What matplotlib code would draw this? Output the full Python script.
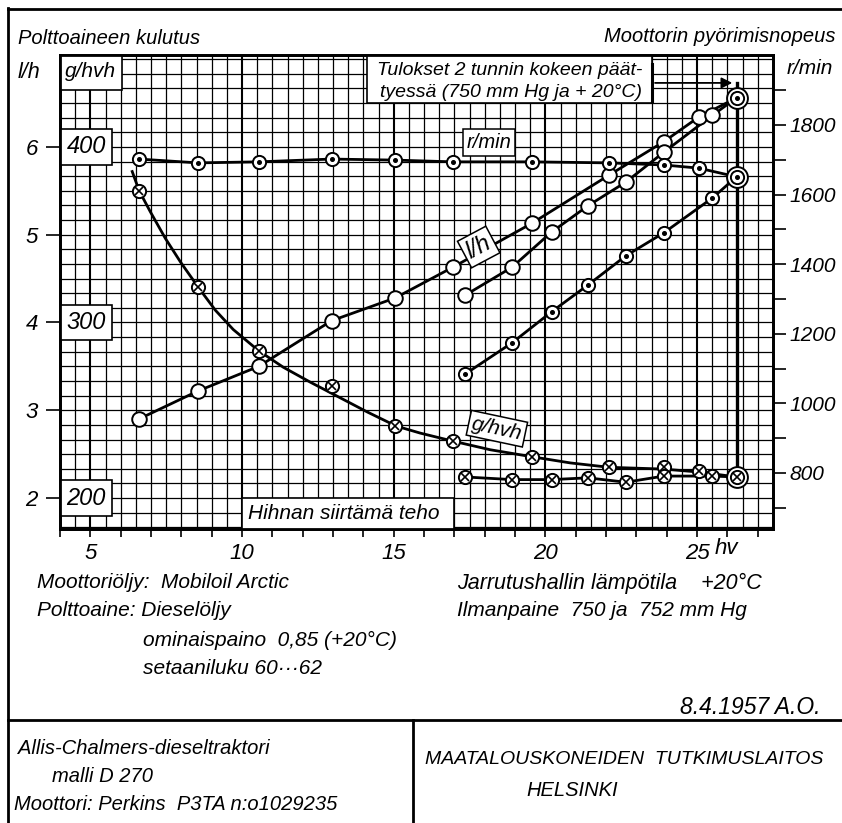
import numpy as np
import matplotlib
matplotlib.use("Agg")
import matplotlib.pyplot as plt
from matplotlib.lines import Line2D
from matplotlib.patches import Rectangle
from matplotlib.ticker import FixedLocator, MultipleLocator

plt.rcParams['font.family'] = ['Liberation Sans', 'DejaVu Sans']
plt.rcParams['font.style'] = 'italic'

W, H = 842, 823

# governor range: speed held by the governor
hv_gov = [6.6, 8.55, 10.55, 12.95, 15.05, 16.95, 19.55, 22.1, 23.9, 25.05, 26.3]
lh_gov = [2.90, 3.22, 3.50, 4.02, 4.28, 4.63, 5.13, 5.68, 6.06, 6.34, 6.56]
rpm_gov = [1702, 1691, 1694, 1702, 1699, 1694, 1694, 1691, 1685, 1676, 1651]
ghvh_gov = [375, 320, 284, 264, 241, 232.5, 223.5, 217.5, 217.5, 215.5, 212]

# full throttle, speed falling with load
hv_full = [17.35, 18.9, 20.2, 21.4, 22.65, 23.9, 25.5, 26.3]
lh_full = [4.31, 4.63, 5.03, 5.33, 5.60, 5.94, 6.36, 6.56]
rpm_full = [1084, 1174, 1263, 1340, 1424, 1490, 1590, 1651]
ghvh_full = [212, 210.5, 210.5, 211.5, 209, 212.5, 212.5, 212]

# hand drawn g/hvh curve
hv_curve = [6.38, 6.61, 6.98, 7.47, 7.97, 8.56, 9.12, 9.71, 10.54, 11.36, 12.25,
            12.97, 14.13, 15.08, 15.87, 16.93, 18.18, 19.56, 20.82, 22.1, 23.88,
            25.07, 26.3]
g_curve = [386, 375, 363, 348, 334.5, 320, 307, 296, 284, 274.5, 266, 259.5,
           249, 241, 237, 232.5, 227.5, 223.5, 220, 217.5, 216.5, 214.8, 212]

# 2 hour test result point
hv_test = 26.3

FS = 14.5


def px(x, y):
    return x / W, 1 - y / H


fig = plt.figure(figsize=(W / 100, H / 100), dpi=100)
fig.patch.set_facecolor('white')

l0, b0 = px(60, 529)
r0, t0 = px(773, 55)
ax = fig.add_axes([l0, b0, r0 - l0, t0 - b0])
ax.set_xlim(4, 27.5)
ax.set_ylim(1.647, 7.048)
ax_r = ax.twinx()
ax_r.set_ylim(639, 2001)
ax_g = ax.twinx()
ax_g.set_ylim(100 + 50 * 1.647, 100 + 50 * 7.048)
ax_g.axis('off')

for a in (ax, ax_r):
    for s in a.spines.values():
        s.set_linewidth(2.0)

# paper grid
for v in np.arange(4.5, 27.5, 0.5):
    ax.axvline(v, color='k', lw=1.5 if v % 5 == 0 else 0.9, zorder=1)
for k in range(-2, 31):
    ax.axhline(2 + k / 6, color='k', lw=0.9, zorder=1)

# ticks
ax.xaxis.set_major_locator(FixedLocator([5, 10, 15, 20, 25]))
ax.xaxis.set_minor_locator(MultipleLocator(1))
ax.tick_params(axis='x', which='both', direction='out', length=6, width=1.2,
               pad=4, top=False, labelsize=16)
ax.set_yticks([2, 3, 4, 5, 6])
ax.tick_params(axis='y', direction='out', length=10, width=1.2, pad=6,
               right=False, labelsize=16)
ax_r.yaxis.set_major_locator(FixedLocator([800, 1000, 1200, 1400, 1600, 1800]))
ax_r.yaxis.set_minor_locator(FixedLocator([700, 900, 1100, 1300, 1500, 1700, 1900]))
ax_r.tick_params(axis='y', which='both', direction='out', length=9, width=1.2,
                 pad=3, labelsize=15)
fig.text(*px(715, 549), 'hv', fontsize=16, ha='left', va='center')


# label boxes on the grid
def box(x0, y0, w, h, lw=1.2):
    ax.add_patch(Rectangle((x0, y0), w, h, fc='white', ec='k', lw=lw, zorder=4))


box(4.0, 6.65, 2.05, 0.5)
ax.text(5.0, 6.86, 'g/hvh', fontsize=15, ha='center', va='center', zorder=5)
for lv, gv in [(6, '400'), (4, '300'), (2, '200')]:
    box(4.0, lv - 0.2, 1.72, 0.4)
    ax.text(4.86, lv, gv, fontsize=17, ha='center', va='center', zorder=5)

box(14.13, 6.50, 9.39, 0.7)
ax.plot([23.52, 23.52], [6.52, 6.95], color='k', lw=2.2, zorder=5)
ax.text(14.46, 6.87, 'Tulokset 2 tunnin kokeen päät-', fontsize=14,
        ha='left', va='center', zorder=5)
ax.text(14.55, 6.62, 'tyessä (750 mm Hg ja + 20°C)', fontsize=14,
        ha='left', va='center', zorder=5)
ax.annotate('', xy=(hv_test - 0.05, 6.73), xytext=(23.52, 6.73),
            arrowprops=dict(arrowstyle='-|>', color='k', lw=1.3,
                            mutation_scale=16), zorder=5)
ax.plot([hv_test, hv_test], [6.73, 2.24], color='k', lw=2.4, zorder=3)

box(10.0, 1.6, 7.0, 0.4)
ax.text(10.2, 1.82, 'Hihnan siirtämä teho', fontsize=FS + 0.5, ha='left',
        va='center', zorder=5)

ax.text(18.15, 6.05, 'r/min', fontsize=FS, ha='center', va='center', zorder=5,
        bbox=dict(boxstyle='square,pad=0.18', fc='white', ec='k', lw=1.1))
ax.text(17.8, 4.86, 'l/h', fontsize=17, ha='center', va='center', rotation=28,
        zorder=5, bbox=dict(boxstyle='square,pad=0.15', fc='white', ec='k', lw=1.1))
ax.text(18.4, 2.79, 'g/hvh', fontsize=FS + 0.5, ha='center', va='center',
        rotation=-12, zorder=5,
        bbox=dict(boxstyle='square,pad=0.15', fc='white', ec='k', lw=1.1))

# curves
LW = 2.0
ax.plot(hv_gov, lh_gov, color='k', lw=LW, zorder=3)
ax.plot(hv_full, lh_full, color='k', lw=LW, zorder=3)
ax_r.plot(hv_gov, rpm_gov, color='k', lw=LW, zorder=3)
ax_r.plot(hv_full, rpm_full, color='k', lw=LW, zorder=3)
ax_g.plot(hv_curve, g_curve, color='k', lw=LW, zorder=3)
ax_g.plot(hv_full, ghvh_full, color='k', lw=LW, zorder=3)


def circles(a, x, y, kind, ms=9.5):
    a.plot(x, y, 'o', ms=ms, mfc='white', mec='k', mew=1.4, zorder=6)
    if kind == 'dot':
        a.plot(x, y, 'o', ms=2.6, color='k', zorder=7)
    elif kind == 'cross':
        a.plot(x, y, 'x', ms=ms * 0.6, mec='k', mew=1.2, zorder=7)


# double rings at the test point
ring = dict(ms=15, mfc='white', mec='k', mew=1.4, zorder=6)
ax.plot(hv_gov[-1], lh_gov[-1], 'o', **ring)
ax_r.plot(hv_gov[-1], rpm_gov[-1], 'o', **ring)
ax_g.plot(hv_gov[-1], ghvh_gov[-1], 'o', **ring)

circles(ax, hv_gov[:-1], lh_gov[:-1], 'open', ms=10.5)
circles(ax, hv_full[:-1], lh_full[:-1], 'open', ms=10.5)
circles(ax, hv_gov[-1:], lh_gov[-1:], 'dot')
circles(ax_r, hv_gov, rpm_gov, 'dot')
circles(ax_r, hv_full[:-1], rpm_full[:-1], 'dot')
circles(ax_g, hv_gov, ghvh_gov, 'cross')
circles(ax_g, hv_full[:-1], ghvh_full[:-1], 'cross')

# headings
fig.text(*px(18, 38), 'Polttoaineen kulutus', fontsize=FS, ha='left', va='center')
fig.text(*px(18, 72), 'l/h', fontsize=FS + 1, ha='left', va='center')
fig.text(*px(836, 37), 'Moottorin pyörimisnopeus', fontsize=FS, ha='right',
         va='center')
fig.text(*px(833, 68), 'r/min', fontsize=FS + 0.5, ha='right', va='center')

# notes
notes = [
    (37, 583, 'Moottoriöljy:  Mobiloil Arctic', 15),
    (37, 611, 'Polttoaine: Dieselöljy', 15),
    (143, 640, 'ominaispaino  0,85 (+20°C)', 15),
    (143, 668, 'setaaniluku 60···62', 15),
    (457, 583, 'Jarrutushallin lämpötila    +20°C', 15.5),
    (457, 611, 'Ilmanpaine  750 ja  752 mm Hg', 15),
    (18, 748, 'Allis-Chalmers-dieseltraktori', 14.5),
    (52, 777, 'malli D 270', 14.5),
    (14, 805, 'Moottori: Perkins  P3TA n:o1029235', 14.5),
    (425, 760, 'MAATALOUSKONEIDEN  TUTKIMUSLAITOS', 14),
    (526, 790, 'HELSINKI', 14.5),
]
for x, y, s, fs in notes:
    fig.text(*px(x, y), s, fontsize=fs, ha='left', va='center')
fig.text(*px(821, 707), '8.4.1957 A.O.', fontsize=16.5, ha='right', va='center')

# drawing frame
frame = [((8, 8), (8, 823)), ((8, 842), (9, 9)), ((8, 842), (720, 720)),
         ((413, 413), (720, 823))]
for xs, ys in frame:
    fig.add_artist(Line2D([x / W for x in xs], [1 - y / H for y in ys],
                          color='k', lw=2.0))

fig.savefig('out.png', dpi=100)
